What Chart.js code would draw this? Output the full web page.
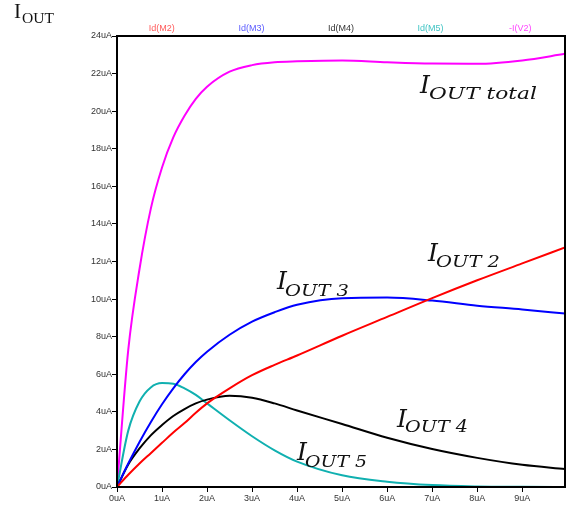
<!DOCTYPE html>
<html>
<head>
<meta charset="utf-8">
<script src="https://cdn.jsdelivr.net/npm/chart.js@4/dist/chart.umd.min.js"></script>
<style>
  html, body { margin: 0; padding: 0; background: #fff; }
</style>
</head>
<body>
<canvas id="chart" width="572" height="508"></canvas>
<script>
// sweep values (uA) shared by every trace
var xs = [0, 0.25, 0.5, 0.75, 1, 1.25, 1.5, 1.75, 2, 2.5, 3, 3.5, 4, 5, 6, 7, 8, 9, 9.95];

// currents in uA
var idM2 = [0, 0.65, 1.25, 1.8, 2.35, 2.9, 3.4, 3.95, 4.45, 5.25, 5.95, 6.5, 7.0, 8.05, 9.05, 10.05, 11.0, 11.9, 12.75];
var idM3 = [0, 1.25, 2.4, 3.45, 4.4, 5.25, 6.0, 6.65, 7.2, 8.1, 8.8, 9.3, 9.7, 10.05, 10.08, 9.92, 9.65, 9.45, 9.23];
var idM4 = [0, 1.2, 2.05, 2.75, 3.3, 3.78, 4.15, 4.45, 4.65, 4.85, 4.75, 4.45, 4.07, 3.35, 2.62, 2.02, 1.55, 1.18, 0.96];
var idM5 = [0, 3.0, 4.55, 5.3, 5.53, 5.5, 5.25, 4.9, 4.45, 3.55, 2.7, 1.95, 1.35, 0.62, 0.28, 0.1, 0.03, 0.01, 0];
var iV2  = [0, 7.3, 11.6, 14.8, 17.0, 18.6, 19.75, 20.65, 21.3, 22.1, 22.45, 22.6, 22.65, 22.7, 22.6, 22.53, 22.52, 22.7, 23.05];

var seriesNames = ["Id(M2)", "Id(M3)", "Id(M4)", "Id(M5)", "-I(V2)"];
var lineColors = ["#ff0000", "#0000ff", "#000000", "#10b0b0", "#ff00ff"];
var nameColors = ["#ff5a5a", "#5a5aff", "#333333", "#40c4c4", "#ff44ff"];

// hand-placed text labels on the plot (pixels)
var notes = [
    { sub: "OUT total", ix: 420, ib: 93, sx: 429, sb: 99, sw: 108 },
    { sub: "OUT 2", ix: 428, ib: 261, sx: 436, sb: 267, sw: 64 },
    { sub: "OUT 3", ix: 277, ib: 289, sx: 285, sb: 296, sw: 64 },
    { sub: "OUT 4", ix: 397, ib: 427, sx: 405, sb: 432, sw: 63 },
    { sub: "OUT 5", ix: 297, ib: 460, sx: 305, sb: 467, sw: 62 }
];

function pts(ys) {
    return xs.map(function (x, i) { return { x: x, y: ys[i] }; });
}

var allSeries = [idM2, idM3, idM4, idM5, iV2];
var datasets = allSeries.map(function (ys, i) {
    return {
        label: seriesNames[i],
        data: pts(ys),
        borderColor: lineColors[i],
        borderWidth: 2,
        pointRadius: 0,
        cubicInterpolationMode: 'monotone',
        fill: false
    };
});

function fitText(ctx, text, x, y, w) {
    var m = ctx.measureText(text).width;
    ctx.save();
    ctx.translate(x, y);
    ctx.scale(w / m, 1);
    ctx.fillText(text, 0, 0);
    ctx.restore();
}

var framePlugin = {
    id: 'frame',
    afterDatasetsDraw: function (chart) {
        var a = chart.chartArea, ctx = chart.ctx;
        ctx.save();
        ctx.strokeStyle = '#000';
        ctx.lineWidth = 2;
        ctx.strokeRect(a.left, a.top, a.right - a.left, a.bottom - a.top);

        // trace names spread across the top
        var w = (a.right - a.left) / seriesNames.length;
        ctx.font = '9px "Liberation Sans", Arial, sans-serif';
        ctx.textAlign = 'center';
        ctx.textBaseline = 'middle';
        seriesNames.forEach(function (n, i) {
            ctx.fillStyle = nameColors[i];
            ctx.fillText(n, a.left + w * (i + 0.5), a.top - 7);
        });

        // I_OUT labels
        ctx.textAlign = 'left';
        ctx.textBaseline = 'alphabetic';
        ctx.fillStyle = '#111';
        notes.forEach(function (n) {
            ctx.font = 'italic 25px "DejaVu Serif", serif';
            ctx.fillText('I', n.ix, n.ib);
            ctx.font = 'italic 16px "DejaVu Serif", serif';
            fitText(ctx, n.sub, n.sx, n.sb, n.sw);
        });

        // axis name, top left
        ctx.font = '21px "Liberation Serif", serif';
        ctx.fillText('I', 14, 18);
        ctx.font = '15px "Liberation Serif", serif';
        fitText(ctx, 'OUT', 22, 23, 32);
        ctx.restore();
    }
};

var tickFont = { family: '"Liberation Sans", Arial, sans-serif', size: 9 };

var chart = new Chart(document.getElementById('chart'), {
    type: 'line',
    data: { datasets: datasets },
    options: {
        responsive: false,
        animation: false,
        devicePixelRatio: 1,
        layout: { padding: { top: 36, right: 7, left: 0, bottom: 0 } },
        plugins: { legend: { display: false }, tooltip: { enabled: false } },
        scales: {
            x: {
                type: 'linear',
                min: 0,
                max: 9.95,
                afterBuildTicks: function (s) {
                    s.ticks = s.ticks.filter(function (t) { return Number.isInteger(t.value); });
                },
                afterFit: function (s) { s.height = 21; },
                ticks: {
                    stepSize: 1,
                    padding: 1,
                    color: '#333',
                    font: tickFont,
                    maxRotation: 0,
                    callback: function (v) { return v + 'uA'; }
                },
                grid: { drawOnChartArea: false, tickLength: 5, color: '#000' },
                border: { color: '#000', width: 2 }
            },
            y: {
                min: 0,
                max: 24,
                afterFit: function (s) { s.width = 117; },
                ticks: {
                    stepSize: 2,
                    padding: 0,
                    color: '#333',
                    font: tickFont,
                    callback: function (v) { return v + 'uA'; }
                },
                grid: { drawOnChartArea: false, tickLength: 5, color: '#000' },
                border: { color: '#000', width: 2 }
            }
        }
    },
    plugins: [framePlugin]
});
</script>
</body>
</html>
